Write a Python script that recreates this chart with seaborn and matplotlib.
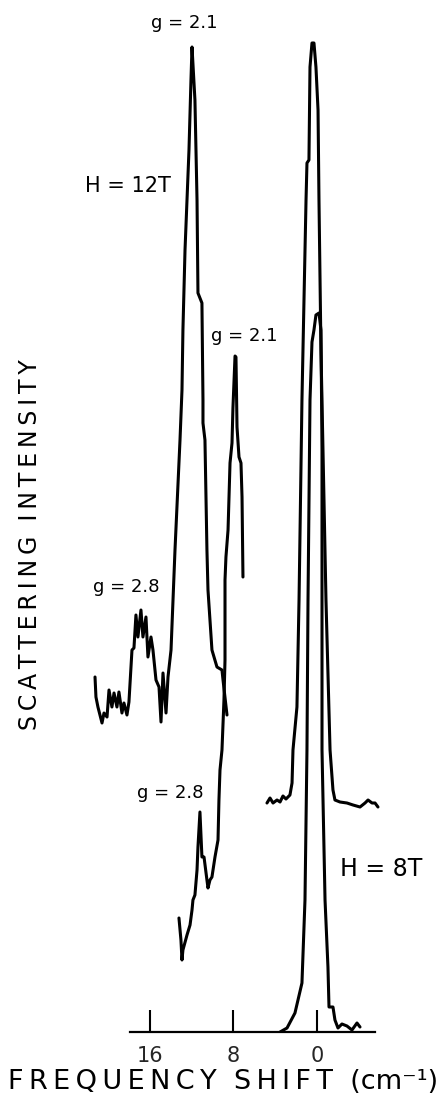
import matplotlib
matplotlib.use("Agg")
import matplotlib.pyplot as plt
import seaborn as sns

# H = 12T trace, low-frequency piece (frequency shift in cm-1, intensity arb. units)
x12_left = [21.26, 21.17, 20.98, 20.59, 20.40, 20.11, 19.92, 19.64, 19.44, 19.16, 18.97,
            18.68, 18.49, 18.20, 18.01, 17.72, 17.53, 17.34, 17.15, 16.86, 16.67, 16.38,
            16.19, 15.90, 15.71, 15.42, 15.13, 14.94, 14.75, 14.46, 14.27, 13.98, 13.79,
            13.60, 13.12, 12.93, 12.84, 12.64, 12.26, 12.07, 11.97, 11.69, 11.49, 11.40,
            11.02, 10.92, 10.92, 10.73, 10.54, 10.44, 10.06, 9.58, 9.10, 9.00, 8.62]
y12_left = [35.5, 33.5, 32.5, 30.9, 31.9, 31.5, 34.2, 32.5, 33.9, 32.5, 34.0,
            31.9, 32.9, 31.7, 33.0, 38.2, 38.4, 41.7, 39.5, 42.2, 39.5, 41.5,
            37.5, 39.5, 38.2, 35.2, 34.5, 31.0, 35.9, 31.9, 35.5, 38.2, 43.2,
            48.2, 59.2, 64.2, 70.2, 78.2, 88.2, 95.2, 98.5, 93.2, 83.2, 73.9,
            72.9, 63.2, 60.9, 59.2, 48.2, 44.2, 38.2, 36.5, 36.2, 35.2, 31.7]

# H = 12T trace, central (laser) line
x12_right = [4.79, 4.50, 4.21, 3.83, 3.54, 3.26, 2.97, 2.59, 2.39, 2.30, 1.92, 1.72, 1.44,
             1.05, 0.96, 0.77, 0.67, 0.48, 0.29, 0.10, -0.10, -0.19, -0.38, -0.67, -0.86,
             -1.25, -1.53, -1.72, -2.20, -2.87, -3.45, -4.12, -4.60, -4.89, -5.27, -5.56, -5.84]
y12_right = [22.9, 23.4, 22.9, 23.2, 23.0, 23.6, 23.3, 23.7, 24.9, 28.2, 32.5, 43.2, 63.2,
             83.2, 86.9, 87.2, 96.5, 98.9, 98.9, 96.5, 92.2, 83.2, 68.2, 53.2, 43.2,
             28.2, 24.2, 23.2, 23.0, 22.9, 22.7, 22.5, 22.9, 23.2, 22.9, 22.9, 22.5]

# H = 8T trace, low-frequency piece
x8_left = [13.22, 13.03, 12.93, 12.84, 12.45, 12.16, 11.97, 11.88, 11.69, 11.49, 11.40,
           11.21, 11.02, 10.82, 10.54, 10.44, 10.25, 10.06, 9.77, 9.48, 9.39, 9.29, 9.10,
           8.91, 8.81, 8.81, 8.72, 8.52, 8.33, 8.14, 8.05, 7.85, 7.76, 7.66, 7.47, 7.28,
           7.18, 7.09]
y8_left = [11.4, 9.2, 7.2, 8.2, 9.7, 10.7, 12.2, 13.2, 13.7, 16.2, 18.5,
           22.0, 17.5, 17.5, 15.2, 14.4, 15.2, 15.5, 17.5, 19.2, 23.2, 26.2, 28.2,
           33.2, 37.2, 45.2, 47.5, 50.2, 56.9, 58.9, 62.4, 67.6, 67.5, 60.5, 57.5, 56.9,
           53.5, 45.5]

# H = 8T trace, central line
x8_right = [3.54, 2.87, 2.11, 1.44, 1.15, 0.96, 0.86, 0.67, 0.48, 0.29, 0.10, -0.19,
            -0.38, -0.48, -0.48, -0.48, -0.77, -1.05, -1.15, -1.53, -1.72, -2.01, -2.39,
            -2.87, -3.35, -3.83, -4.12]
y8_right = [0.0, 0.4, 1.9, 4.9, 13.2, 28.2, 43.2, 63.2, 69.0, 70.2, 71.7, 71.9,
            70.2, 58.2, 43.2, 28.2, 13.2, 6.5, 2.5, 2.5, 1.2, 0.4, 0.8,
            0.6, 0.2, 0.9, 0.5]

segments = [(x12_left, y12_left), (x12_right, y12_right),
            (x8_left, y8_left), (x8_right, y8_right)]

tick_values = [16, 8, 0]
tick_labels = ["16", "8", "0"]

# text annotations: (label, x, y, fontsize)
annotations = [("g = 2.1", 12.74, 100.9, 13),
               ("H = 12T", 18.10, 84.6, 15),
               ("g = 2.1", 6.99, 69.6, 13),
               ("g = 2.8", 18.30, 44.5, 13),
               ("g = 2.8", 14.08, 23.9, 13),
               ("H = 8T", -6.13, 16.3, 17)]


def spaced(word):
    return "\u2009".join(word)


sns.set_theme(style="white")
plt.rcParams["font.family"] = ["DejaVu Sans"]

fig = plt.figure(figsize=(4.45, 11.03), dpi=100)
ax = fig.add_axes([0, 71 / 1103, 1, 1032 / 1103])

for xs, ys in segments:
    sns.lineplot(x=xs, y=ys, sort=False, estimator=None, color="black",
                 linewidth=2.2, ax=ax)

ax.set_xlim(30.36, -12.26)
ax.set_ylim(0, 103.2)

for side in ["left", "right", "top"]:
    ax.spines[side].set_visible(False)
ax.spines["bottom"].set_color("black")
ax.spines["bottom"].set_linewidth(1.6)
ax.spines["bottom"].set_bounds(17.91, -5.56)

ax.set_xticks(tick_values)
ax.set_xticklabels(tick_labels)
ax.set_yticks([])
ax.tick_params(axis="x", direction="in", length=15.5, width=1.5, color="black",
               pad=10, labelsize=15, bottom=True)

for label, x, y, size in annotations:
    ax.text(x, y, label, ha="center", va="center", fontsize=size, color="black")

ax.set_xlabel(spaced("FREQUENCY") + "  " + spaced("SHIFT") + "  (cm\u207b\u00b9)",
              fontsize=19.5, color="black")
ax.xaxis.label.set_va("center")
ax.xaxis.set_label_coords(0.502, -0.0485)

ax.set_ylabel(spaced("SCATTERING") + "  " + spaced("INTENSITY"), fontsize=17,
              color="black")
ax.yaxis.label.set_va("center")
ax.yaxis.set_label_coords(0.0674, 0.472)

fig.savefig("out.png", dpi=100, facecolor="white")
